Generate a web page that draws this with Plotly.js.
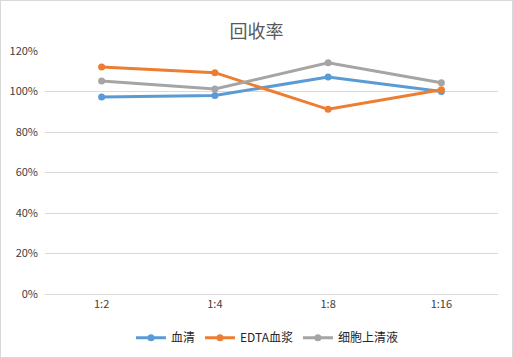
<!DOCTYPE html>
<html><head><meta charset="utf-8">
<script src="https://cdn.plot.ly/plotly-3.0.1.min.js"></script>
<style>
html,body{margin:0;padding:0;background:#fff;}
#chart{width:513px;height:358px;box-sizing:border-box;border:1px solid #d9d9d9;}
</style></head>
<body><div id="chart"></div>
<script>
const categories = ["1:2", "1:4", "1:8", "1:16"];
const seriesNames = ["血清", "EDTA血浆", "细胞上清液"];
const serum = [0.973, 0.980, 1.072, 1.000];
const edta = [1.121, 1.093, 0.912, 1.009];
const supernatant = [1.052, 1.012, 1.142, 1.043];
const yTicks = [0, 0.2, 0.4, 0.6, 0.8, 1.0, 1.2];
const colors = ["#5B9BD5", "#ED7D31", "#A5A5A5"];

const allSeries = [serum, edta, supernatant];
const traces = allSeries.map((vals, i) => ({
  x: categories, y: vals, name: seriesNames[i], type: "scatter", mode: "lines+markers",
  line: {color: colors[i], width: 3}, marker: {color: colors[i], size: 7}
}));

const font = {family: "'Noto Sans CJK SC', 'DejaVu Sans', sans-serif", color: "#404040", size: 11};
Plotly.newPlot("chart", traces, {
  width: 511, height: 356,
  margin: {l: 44, r: 14, t: 50, b: 62.7, autoexpand: false},
  paper_bgcolor: "#fff", plot_bgcolor: "#fff",
  font: font,
  title: {text: "回收率", x: 0.5, xanchor: "center", y: 0.913, yanchor: "middle",
          font: {family: font.family, size: 18, color: "#595959"}},
  xaxis: {type: "category", range: [-0.5, 3.5], showgrid: false, showline: true,
          linecolor: "#d9d9d9", linewidth: 1, ticks: "", tickfont: {size: 11, color: "#404040"}},
  yaxis: {range: [0, 1.2], tickvals: yTicks, tickformat: ".0%", showgrid: true,
          gridcolor: "#d9d9d9", gridwidth: 1, zeroline: false, showline: false, ticks: "",
          ticklabelstandoff: 6, tickfont: {size: 11, color: "#404040"}},
  showlegend: true,
  legend: {orientation: "h", x: 0.49, xanchor: "center", y: -0.18, yanchor: "middle",
           font: {family: "'Liberation Sans Narrow', 'Noto Sans CJK SC', sans-serif", size: 12, color: "#262626"},
           itemwidth: 30, itemgap: 0, tracegroupgap: 0}
}, {displayModeBar: false, staticPlot: true});
</script></body></html>
